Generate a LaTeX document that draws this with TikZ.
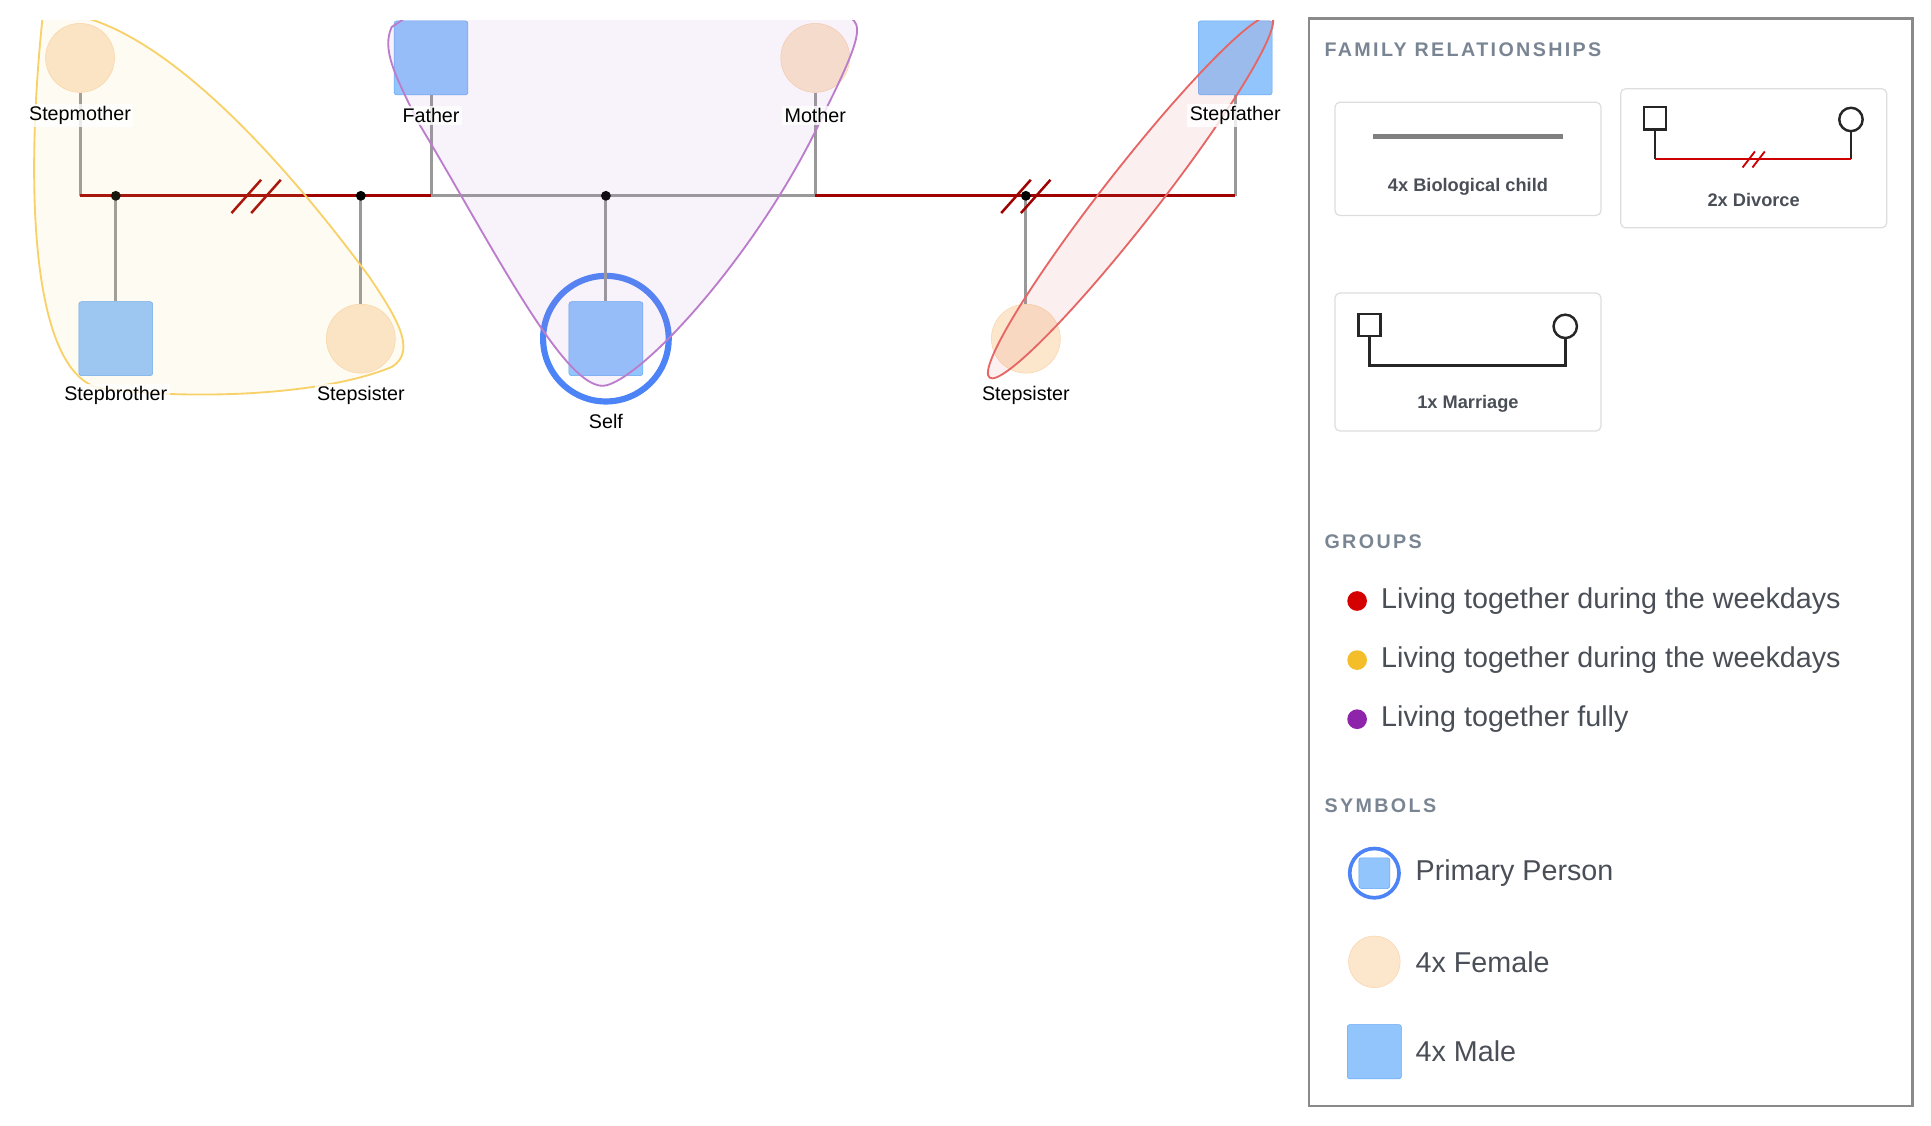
\documentclass[tikz,border=0pt]{standalone}
\usepackage{fontspec}
\setmainfont{Liberation Sans}
\usepackage{tikz}
\usetikzlibrary{arrows.meta}
\definecolor{femfill}{HTML}{FCE6CC}
\definecolor{femdraw}{HTML}{FAD3A8}
\definecolor{malefill}{HTML}{93C5FD}
\definecolor{maledraw}{HTML}{5FA5F5}
\definecolor{divred}{HTML}{A00000}
\definecolor{linegray}{HTML}{999999}
\definecolor{headgray}{HTML}{7A8593}
\definecolor{txtgray}{HTML}{4A4F57}
\definecolor{cardgray}{HTML}{DDDDDD}
\definecolor{grpred}{HTML}{D50000}
\definecolor{grpyellow}{HTML}{F4BE2A}
\definecolor{grppurple}{HTML}{8E24AA}
\tikzstyle{female} = [circle, minimum size=56pt, inner sep=0pt, fill=femfill, draw=femdraw]
\tikzstyle{male} = [rectangle, rounded corners=2pt, minimum size=60pt, inner sep=0pt, fill=malefill, draw=maledraw]
\tikzstyle{lbl} = [fill=white, fill opacity=0.8, text opacity=1, inner sep=2pt, font=\fontsize{16}{18}\selectfont]
\tikzstyle{child} = [linegray, line width=2.4pt]
\tikzstyle{divorce} = [divred, line width=2.6pt]
\tikzstyle{hull} = [line width=1.5pt, fill opacity=0.1]
\tikzstyle{card} = [draw=cardgray, line width=1pt, rounded corners=4pt]
\tikzstyle{head} = [anchor=west, text=headgray, font=\fontsize{16}{18}\selectfont\bfseries\addfontfeature{LetterSpace=12}]
\tikzstyle{item} = [anchor=west, text=txtgray, font=\fontsize{23.3}{26}\selectfont]
\tikzstyle{cardtxt} = [text=txtgray, font=\fontsize{14.8}{17}\selectfont\bfseries]
\begin{document}
\begin{tikzpicture}[x=1pt, y=-1pt]
    \useasboundingbox (0,0) rectangle (1568,914);

    % people
    \node[female] (stepmother) at (65,47) {};
    \node[male] (father) at (350,47) {};
    \node[female] (mother) at (662,47) {};
    \node[male] (stepfather) at (1003,47) {};
    \node[male] (stepbrother) at (94,275) {};
    \node[female] (stepsisterA) at (293,275) {};
    \node[male] (self) at (492,275) {};
    \node[female] (stepsisterB) at (833,275) {};
    \draw[maledraw!80!blue, line width=5pt] (self) circle (51pt);

    % union points
    \coordinate (smL) at (65,159);
    \coordinate (faL) at (350,159);
    \coordinate (moL) at (662,159);
    \coordinate (sfL) at (1003,159);
    \coordinate (u1) at (94,159);
    \coordinate (u2) at (293,159);
    \coordinate (u3) at (492,159);
    \coordinate (u4) at (833,159);

    \draw[child] (stepmother.south) -- (smL);
    \draw[child] (father.south) -- (faL);
    \draw[child] (mother.south) -- (moL);
    \draw[child] (stepfather.south) -- (sfL);
    \draw[child] (u1) -- (stepbrother.north);
    \draw[child] (u2) -- (stepsisterA.north);
    \draw[child] (u3) -- (self.north);
    \draw[child] (u4) -- (stepsisterB.north);

    \draw[divorce] (smL) -- (faL);
    \draw[child, line width=2.6pt] (faL) -- (moL);
    \draw[divorce] (moL) -- (sfL);
    \foreach \sx in {200,216,825,841}
        \draw[divorce, line width=2pt] (\sx-12,173) -- (\sx+12,146);
    \foreach \u in {u1,u2,u3,u4}
        \fill (\u) circle (4pt);

    % group hulls
    \begin{scope}
        \clip (0,17) rectangle (1050,914);
        \draw[hull, fill=grpyellow!60, draw=grpyellow!70]
            (35,10) .. controls (20,150) and (25,300) .. (80,315)
            .. controls (150,325) and (260,322) .. (318,298)
            .. controls (340,285) and (320,255) .. (300,225)
            .. controls (230,130) and (120,5) .. (35,10);
        \draw[hull, fill=grppurple!60, draw=grppurple!60]
            (318,22) .. controls (310,40) and (320,60) .. (340,100)
            .. controls (400,200) and (460,320) .. (492,313)
            .. controls (525,305) and (620,200) .. (670,90)
            .. controls (700,30) and (700,20) .. (690,14) -- (330,14) -- cycle;
        \draw[hull, fill=grpred!60, draw=grpred!60, rotate around={52:(918,160)}]
            (918,160) ellipse (186pt and 22pt);
    \end{scope}

    % labels
    \node[lbl] at (65,94) {Stepmother};
    \node[lbl] at (350,94) {Father};
    \node[lbl] at (662,94) {Mother};
    \node[lbl] at (1003,94) {Stepfather};
    \node[lbl] at (94,321) {Stepbrother};
    \node[lbl] at (293,321) {Stepsister};
    \node[lbl] at (492,342) {Self};
    \node[lbl] at (833,321) {Stepsister};

    % legend
    \draw[linegray!90!black, line width=2pt] (1063,15) rectangle (1553,898);
    \node[head] at (1072,40) {FAMILY RELATIONSHIPS};

    \draw[card] (1084,83) rectangle (1300,175);
    \draw[gray, line width=4pt] (1115,111) -- (1269,111);
    \node[cardtxt] at (1192,152) {4x Biological child};

    \draw[card] (1316,72) rectangle (1532,185);
    \node[draw=black!85, line width=2pt, minimum size=18pt, inner sep=0pt] (dsq) at (1344,96) {};
    \node[draw=black!85, line width=2pt, circle, minimum size=19pt, inner sep=0pt] (dci) at (1503,97) {};
    \draw[black!85, line width=2pt] (dsq.south) -- (1344,129);
    \draw[black!85, line width=2pt] (dci.south) -- (1503,129);
    \draw[red!80!black, line width=2pt] (1344,129) -- (1503,129);
    \foreach \sx in {1420,1428}
        \draw[red!80!black, line width=1.5pt] (\sx-5,136) -- (\sx+5,123);
    \node[cardtxt] at (1424,162) {2x Divorce};

    \draw[card] (1084,238) rectangle (1300,350);
    \node[draw=black!85, line width=2pt, minimum size=18pt, inner sep=0pt] (msq) at (1112,264) {};
    \node[draw=black!85, line width=2pt, circle, minimum size=19pt, inner sep=0pt] (mci) at (1271,265) {};
    \draw[black!85, line width=2.4pt] (msq.south) |- (1271,297) -- (mci.south);
    \node[cardtxt] at (1192,328) {1x Marriage};

    \node[head] at (1072,440) {GROUPS};
    \fill[grpred] (1102,488) circle (8pt);
    \node[item] at (1118,488) {Living together during the weekdays};
    \fill[grpyellow] (1102,536) circle (8pt);
    \node[item] at (1118,536) {Living together during the weekdays};
    \fill[grppurple] (1102,584) circle (8pt);
    \node[item] at (1118,584) {Living together fully};

    \node[head] at (1072,654) {SYMBOLS};
    \node[male, minimum size=25pt] (lgself) at (1116,709) {};
    \draw[maledraw!80!blue, line width=3pt] (lgself) circle (20pt);
    \node[item] at (1146,709) {Primary Person};
    \node[female, minimum size=42pt] (lgfem) at (1116,781) {};
    \node[item] at (1146,781) {4x Female};
    \node[male, minimum size=44pt] (lgmale) at (1116,854) {};
    \node[item] at (1146,854) {4x Male};
\end{tikzpicture}
\end{document}
